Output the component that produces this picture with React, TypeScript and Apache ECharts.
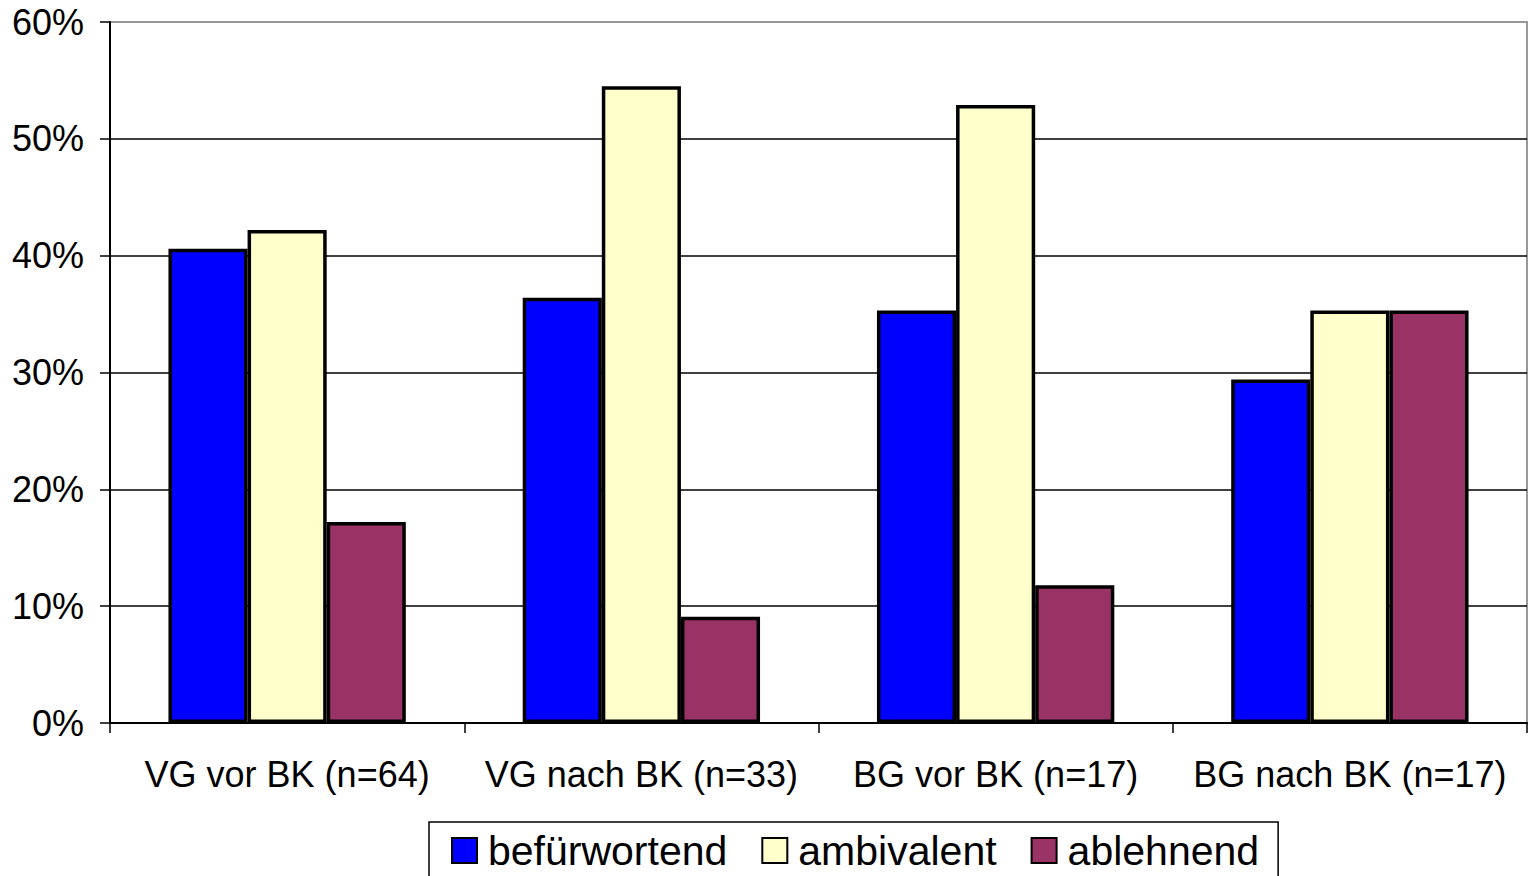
import React, { useEffect, useRef } from "react";
import * as echarts from "echarts";

const categories = ["VG vor BK (n=64)", "VG nach BK (n=33)", "BG vor BK (n=17)", "BG nach BK (n=17)"];
const seriesNames = ["befürwortend", "ambivalent", "ablehnend"];
const befuerwortend = [40.6, 36.4, 35.3, 29.4];
const ambivalent = [42.2, 54.5, 52.9, 35.3];
const ablehnend = [17.2, 9.1, 11.8, 35.3];
const colors = ["#0000FF", "#FFFFCC", "#993366"];

export default function App() {
  const ref = useRef<HTMLDivElement>(null);
  useEffect(() => {
    if (!ref.current) return;
    const chart = echarts.init(ref.current, null, { renderer: "svg" });
    const font = "'Liberation Sans', Arial, sans-serif";
    const values = [befuerwortend, ambivalent, ablehnend];
    chart.setOption({
      animation: false,
      backgroundColor: "#ffffff",
      textStyle: { fontFamily: font },
      grid: {
        left: 110,
        right: 3,
        top: 22,
        bottom: 153,
        show: true,
        borderColor: "#999999",
        borderWidth: 2,
        backgroundColor: "transparent",
      },
      legend: {
        left: 429,
        top: 822,
        orient: "horizontal",
        data: seriesNames,
        borderColor: "#000000",
        borderWidth: 1.5,
        padding: [8, 19, 8, 22],
        itemWidth: 25,
        itemHeight: 25,
        itemGap: 34,
        icon: "rect",
        textStyle: { fontSize: 41, color: "#000", fontFamily: font, padding: [0, 0, 0, 6] },
      },
      xAxis: {
        type: "category",
        data: categories,
        axisLine: { show: true, lineStyle: { color: "#000", width: 2 } },
        axisTick: { show: true, interval: 0, length: 10, lineStyle: { color: "#000", width: 1.5 } },
        axisLabel: { interval: 0, fontSize: 36, color: "#000", margin: 33, fontFamily: font },
        splitLine: { show: false },
      },
      yAxis: {
        type: "value",
        min: 0,
        max: 60,
        interval: 10,
        axisLine: { show: true, lineStyle: { color: "#000", width: 2 } },
        axisTick: { show: true, length: 10, lineStyle: { color: "#000", width: 1.5 } },
        axisLabel: { fontSize: 36, color: "#000", margin: 26, formatter: "{value}%", fontFamily: font },
        splitLine: {
          show: true,
          lineStyle: { color: ["#000", "#000", "#000", "#000", "#000", "#000", "#999"], width: 1.5 },
        },
      },
      series: seriesNames.map((name, i) => ({
        name,
        type: "bar",
        data: values[i],
        barGap: "0%",
        barCategoryGap: "33%",
        itemStyle: { color: colors[i], borderColor: "#000", borderWidth: 3.5 },
      })),
    });
    return () => chart.dispose();
  }, []);
  return (
    <div
      ref={ref}
      style={{ position: "absolute", left: 0, top: 0, width: 1530, height: 876 }}
    />
  );
}
